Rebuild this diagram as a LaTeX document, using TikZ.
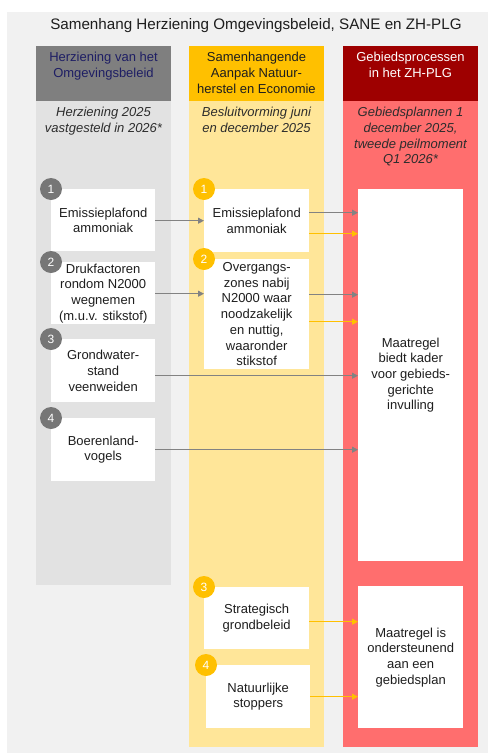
\documentclass[tikz,border=0pt]{standalone}
\usepackage{fontspec}
\setmainfont{Liberation Sans}
\usetikzlibrary{arrows.meta,calc}
\definecolor{panel}{RGB}{241,241,241}
\definecolor{hdgray}{RGB}{127,127,127}
\definecolor{bdgray}{RGB}{226,226,226}
\definecolor{hdyel}{RGB}{255,192,0}
\definecolor{bdyel}{RGB}{255,230,153}
\definecolor{hdred}{RGB}{158,0,0}
\definecolor{bdred}{RGB}{255,110,110}
\definecolor{navy}{RGB}{30,30,100}
\definecolor{txtdark}{RGB}{30,30,30}
\definecolor{subtxt}{RGB}{45,45,45}
\definecolor{circgray}{RGB}{118,118,118}
\definecolor{arrgray}{RGB}{130,130,130}
\begin{document}
\begin{tikzpicture}[x=1pt,y=-1pt,
  txt/.style={font=\fontsize{13}{15.7}\selectfont, align=center, inner sep=0pt, text=txtdark},
  wbox/.style={txt, fill=white, draw=none, anchor=north west, minimum width=104pt},
  hdtxt/.style={txt, anchor=north},
  subtxtst/.style={txt, anchor=north, text=subtxt, font=\fontsize{13}{15.7}\selectfont\itshape},
  gcirc/.style={circle, fill=circgray, minimum size=22pt, inner sep=0pt, text=white, font=\fontsize{12}{14}\selectfont},
  ycirc/.style={gcirc, fill=hdyel},
  garrow/.style={draw=arrgray, line width=1pt, -{Triangle[length=6pt,width=6pt]}},
  yarrow/.style={draw=hdyel, line width=1pt, -{Triangle[length=6pt,width=6pt]}}
]
\useasboundingbox (0,0) rectangle (488,753);
\fill[white] (0,0) rectangle (488,753);
\fill[panel] (7,12) rectangle (488,753);

% title
\node[txt, anchor=base, font=\fontsize{15.2}{18}\selectfont] (title) at (256,29.5) {Samenhang Herziening Omgevingsbeleid, SANE en ZH-PLG};

% columns
\fill[hdgray] (36,46) rectangle (171,101);
\fill[bdgray] (36,101) rectangle (171,585);
\fill[hdyel] (189,46) rectangle (324,101);
\fill[bdyel] (189,101) rectangle (324,747);
\fill[hdred] (343,46) rectangle (478,101);
\fill[bdred] (343,101) rectangle (478,747);

% headers
\node[hdtxt, text=navy] (h1) at (103.5,52) {Herziening van het\\Omgevingsbeleid};
\node[hdtxt] (h2) at (256.5,52) {Samenhangende\\Aanpak Natuur-\\herstel en Economie};
\node[hdtxt, text=white] (h3) at (410.5,52) {Gebiedsprocessen\\in het ZH-PLG};

\node[subtxtst] (s1) at (103.5,107) {Herziening 2025\\vastgesteld in 2026*};
\node[subtxtst] (s2) at (256.5,107) {Besluitvorming juni\\en december 2025};
\node[subtxtst] (s3) at (410.5,107) {Gebiedsplannen 1\\december 2025,\\tweede peilmoment\\Q1 2026*};

% left column boxes
\node[wbox, minimum height=62pt] (l1) at (51,189) {Emissieplafond\\ammoniak};
\node[wbox, minimum height=62pt] (l2) at (51,262) {Drukfactoren\\rondom N2000\\wegnemen\\(m.u.v. stikstof)};
\node[wbox, minimum height=63pt] (l3) at (51,339) {Grondwater-\\stand\\veenweiden};
\node[wbox, minimum height=63pt] (l4) at (51,418) {Boerenland-\\vogels};

% middle column boxes
\node[wbox, minimum width=105pt, minimum height=63pt] (m1) at (204,189) {Emissieplafond\\ammoniak};
\node[wbox, minimum width=105pt, minimum height=110pt] (m2) at (204,259) {Overgangs-\\zones nabij\\N2000 waar\\noodzakelijk\\en nuttig,\\waaronder\\stikstof};
\node[wbox, minimum width=105pt, minimum height=62pt] (m3) at (204,587) {Strategisch\\grondbeleid};
\node[wbox, minimum width=104pt, minimum height=63pt] (m4) at (206,665) {Natuurlijke\\stoppers};

% right column boxes
\node[wbox, minimum width=105pt, minimum height=372pt] (r1) at (358,189) {Maatregel\\biedt kader\\voor gebieds-\\gerichte\\invulling};
\node[wbox, minimum width=105pt, minimum height=142pt] (r2) at (358,586) {Maatregel is\\ondersteunend\\aan een\\gebiedsplan};

% number circles
\node[gcirc] (c1) at (l1.north west) {1};
\node[gcirc] (c2) at (l2.north west) {2};
\node[gcirc] (c3) at (l3.north west) {3};
\node[gcirc] (c4) at (l4.north west) {4};
\node[ycirc] (y1) at (m1.north west) {1};
\node[ycirc] (y2) at (m2.north west) {2};
\node[ycirc] (y3) at (m3.north west) {3};
\node[ycirc] (y4) at (m4.north west) {4};

% connectors
\draw[garrow] ([yshift=-0.5pt]l1.east) -- ([yshift=-0.5pt]l1.east -| m1.west);
\draw[garrow] ([yshift=-0.5pt]l2.east) -- ([yshift=-0.5pt]l2.east -| m2.west);
\draw[garrow] ([yshift=8pt]m1.east) -- ([yshift=8pt]m1.east -| r1.west);
\draw[yarrow] ([yshift=-13pt]m1.east) -- ([yshift=-13pt]m1.east -| r1.west);
\draw[garrow] ([yshift=19.5pt]m2.east) -- ([yshift=19.5pt]m2.east -| r1.west);
\draw[yarrow] ([yshift=-7.5pt]m2.east) -- ([yshift=-7.5pt]m2.east -| r1.west);
\draw[garrow] ([yshift=-5pt]l3.east) -- ([yshift=-5pt]l3.east -| r1.west);
\draw[garrow] (l4.east) -- (l4.east -| r1.west);
\draw[yarrow] ([yshift=-3.5pt]m3.east) -- ([yshift=-3.5pt]m3.east -| r2.west);
\draw[yarrow] (m4.east) -- (m4.east -| r2.west);
\end{tikzpicture}
\end{document}
